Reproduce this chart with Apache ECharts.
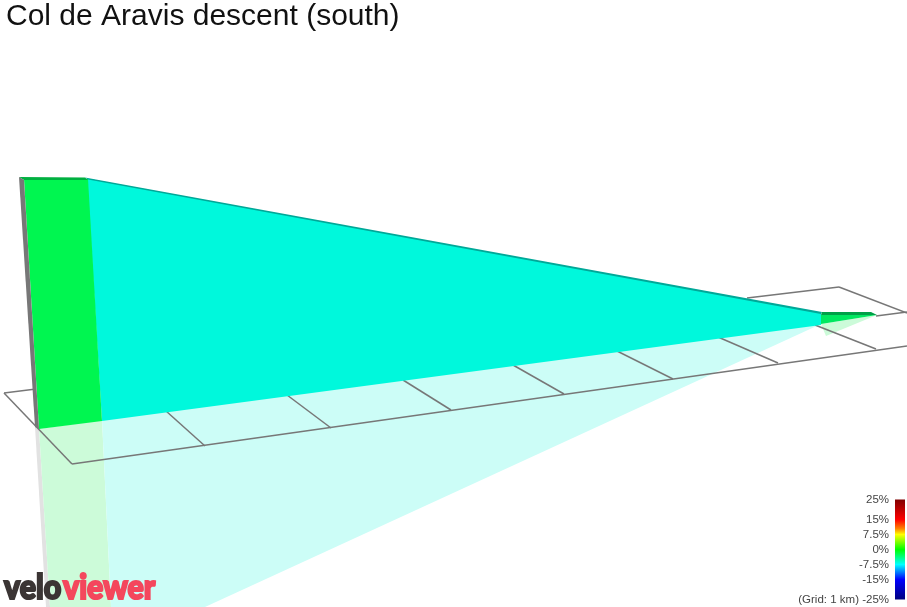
<!DOCTYPE html>
<html><head><meta charset="utf-8">
<style>html,body{margin:0;padding:0;background:#fff}#c{width:907px;height:607px}</style>
<script src="https://cdn.jsdelivr.net/npm/echarts@6/dist/echarts.min.js"></script>
</head><body><div id="c"></div>
<script>
const titleText = 'Col de Aravis descent (south)';
const gridNote = '(Grid: 1 km) ';
const gradientTicks = [25, 15, 7.5, 0, -7.5, -15, -25];
const gradientStops = [[25,'#7f0000'],[15,'#ff0000'],[10.5,'#ff8000'],[7.5,'#ffff00'],[0,'#00ff00'],[-7.5,'#00ffff'],[-15,'#0000ff'],[-25,'#00007f']];

// Projected outlines (screen x, screen y)
const shadowGrey  = [[35,427],[39,429],[50,607],[46,607]];
const shadowGreen = [[39,429],[102,420],[111,607],[50,607]];
const shadowCyan  = [[102,420],[821,324],[205,607],[111,607]];
const shadowTip   = [[821,324],[877,315],[826,336]];
const wallGreen   = [[24,179],[88,179],[102,421],[39,429]];
const wallCyan    = [[87,178.5],[821,313],[821,325],[102,421]];
const wallTip     = [[821,315],[877,315],[821,324]];
const topGreen    = [[19,177],[85,177.5],[88,180],[24,180]];
const topCyan     = [[85,177.5],[822,312],[821,314],[88,179.5]];
const topTip      = [[822,312],[871,312],[877,315],[821,315]];
const sideGrey    = [[19,177],[24,180],[39,429],[35,427]];
const gridLines = [
  [[4,393],[72,464]],[[72,464],[907,346]],[[4,393],[36,389]],
  [[747,298],[839,287]],[[839,287],[907,313]],[[876,316],[907,312]],
  [[166,411],[205,446]],[[287,395],[331,428]],[[403,380],[451,410]],
  [[513,365],[564,394]],[[617,351],[673,379]],[[718,337],[778,363]],[[815,325],[876,349]]
];

const fills = [
  [shadowGrey,'#e2e2e2'],[shadowGreen,'#ccfbd9'],[shadowCyan,'#ccfdf7'],[shadowTip,'#ccfbd9']
];
const walls = [
  [wallCyan,'#00f8dc'],[wallGreen,'#00f650'],[wallTip,'#00e860'],
  [topCyan,'#00a898'],[topGreen,'#00b040'],[topTip,'#00a048'],[sideGrey,'#777777']
];
const poly = list => ({
  type:'custom', coordinateSystem:'cartesian2d', xAxisIndex:0, yAxisIndex:0, silent:true,
  data:list.map((_, i)=>i), clip:true,
  renderItem:(p, api)=>{ const [pts,col]=list[api.value(0)];
    return {type:'polygon', shape:{points:pts.map(q=>api.coord(q))}, style:{fill:col}}; },
  encode:{x:[],y:[]}
});
const chart = echarts.init(document.getElementById('c'), null, {renderer:'canvas'});
chart.setOption({
  animation:false,
  backgroundColor:'#fff',
  title:{text:titleText,left:6,top:2,padding:0,textStyle:{fontFamily:'Liberation Sans',fontSize:30,fontWeight:'normal',color:'#111'}},
  grid:[{left:0,top:0,width:907,height:607},{left:895,top:499.5,width:10,height:100}],
  xAxis:[{type:'value',min:0,max:907,show:false,gridIndex:0},{type:'value',min:0,max:1,show:false,gridIndex:1}],
  yAxis:[{type:'value',min:0,max:607,inverse:true,show:false,gridIndex:0},
    {type:'value',min:-25,max:25,gridIndex:1,position:'left',splitLine:{show:false},axisLine:{show:false},axisTick:{show:false},
     axisLabel:{customValues:gradientTicks,margin:6,fontFamily:'Liberation Sans',fontSize:11.5,color:'#444',
       formatter:v=>(v===-25?gridNote:'')+v+'%'}}],
  graphic:[
    {type:'text',x:4,y:571,z:100,silent:true,scaleX:0.95,scaleY:1.05,style:{text:'velo',fontFamily:'Lato',fontWeight:900,fontSize:32,fill:'#3b3534',stroke:'#3b3534',lineWidth:2}},
    {type:'text',x:63,y:571,z:100,silent:true,scaleX:0.95,scaleY:1.05,style:{text:'viewer',fontFamily:'Lato',fontWeight:900,fontSize:32,fill:'#f4475d',stroke:'#f4475d',lineWidth:2}}
  ],
  series:[
    poly(fills),
    {type:'custom',coordinateSystem:'cartesian2d',xAxisIndex:0,yAxisIndex:0,silent:true,data:gridLines.map((_,i)=>i),encode:{x:[],y:[]},
     renderItem:(p,api)=>{const s=gridLines[api.value(0)];
       return {type:'polyline',shape:{points:s.map(q=>api.coord(q))},style:{stroke:'#777',lineWidth:1.5,fill:null}};}},
    poly(walls),
    {type:'custom',coordinateSystem:'cartesian2d',xAxisIndex:1,yAxisIndex:1,silent:true,data:[[0,25]],encode:{x:0,y:1},
     renderItem:(p,api)=>{
       const a=api.coord([0,25]),b=api.coord([1,-25]);
       return {type:'rect',shape:{x:a[0],y:a[1],width:b[0]-a[0],height:b[1]-a[1]},
         style:{fill:new echarts.graphic.LinearGradient(0,0,0,1,gradientStops.map(([v,c])=>({offset:(25-v)/50,color:c})))}};
     }}
  ]
});
</script></body></html>
